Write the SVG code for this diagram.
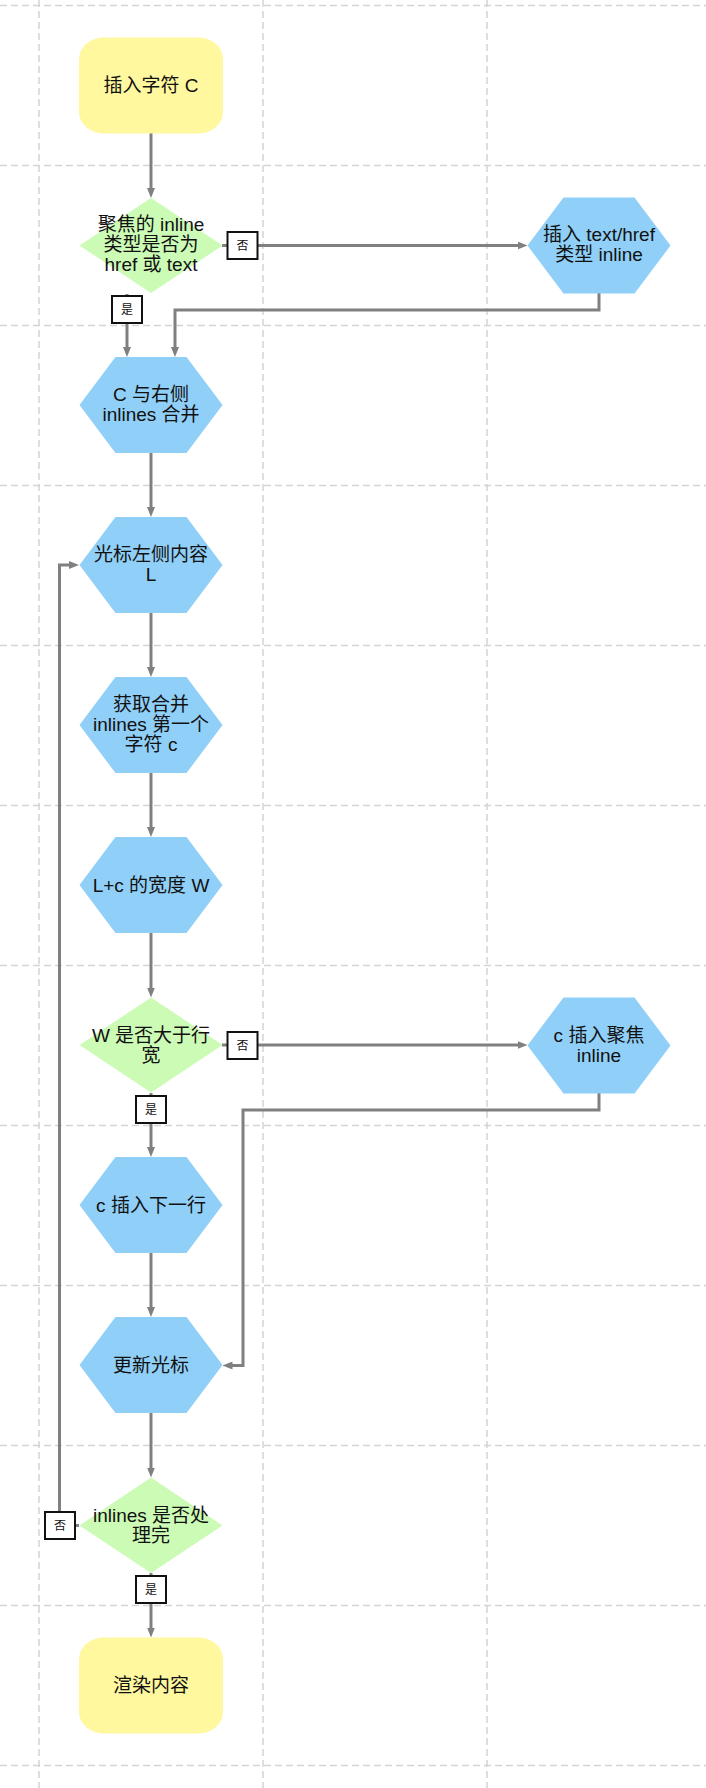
<svg xmlns="http://www.w3.org/2000/svg" width="706" height="1788" viewBox="0 0 706 1788">
<style>
.grid line{stroke:#d4d4d4;stroke-width:1.5;stroke-dasharray:7 4}
.term{fill:#fff89f}
.proc{fill:#90cff7}
.dec{fill:#ccfbb6}
text{font-family:"Liberation Sans","Noto Sans CJK SC",sans-serif;font-size:19px;fill:#111;text-anchor:middle;dominant-baseline:central}
.conn path{fill:none;stroke:#808080;stroke-width:3}
.lbl rect{fill:#fff;stroke:#111;stroke-width:2}
.lbl text{font-size:12px}
</style>
<defs>
<marker id="arr" viewBox="0 0 10 8" refX="4" refY="4" markerWidth="10" markerHeight="8" markerUnits="userSpaceOnUse" orient="auto">
<path d="M0,0 L10,4 L0,8 z" fill="#808080"/>
</marker>
</defs>
<rect width="706" height="1788" fill="#fff"/>
<g class="grid">
<line x1="0" y1="5.5" x2="706" y2="5.5"/>
<line x1="0" y1="165.5" x2="706" y2="165.5"/>
<line x1="0" y1="325.5" x2="706" y2="325.5"/>
<line x1="0" y1="485.5" x2="706" y2="485.5"/>
<line x1="0" y1="645.5" x2="706" y2="645.5"/>
<line x1="0" y1="805.5" x2="706" y2="805.5"/>
<line x1="0" y1="965.5" x2="706" y2="965.5"/>
<line x1="0" y1="1125.5" x2="706" y2="1125.5"/>
<line x1="0" y1="1285.5" x2="706" y2="1285.5"/>
<line x1="0" y1="1445.5" x2="706" y2="1445.5"/>
<line x1="0" y1="1605.5" x2="706" y2="1605.5"/>
<line x1="0" y1="1765.5" x2="706" y2="1765.5"/>
<line x1="39" y1="0" x2="39" y2="1788"/>
<line x1="263" y1="0" x2="263" y2="1788"/>
<line x1="487" y1="0" x2="487" y2="1788"/>
</g>
<g class="conn">
<path d="M151,133 V192" marker-end="url(#arr)"/>
<path d="M222,245.5 H521.5" marker-end="url(#arr)"/>
<path d="M127,294 V351" marker-end="url(#arr)"/>
<path d="M599,293 V310 H175 V351" marker-end="url(#arr)"/>
<path d="M151,453 V511" marker-end="url(#arr)"/>
<path d="M151,613 V671" marker-end="url(#arr)"/>
<path d="M151,773 V831" marker-end="url(#arr)"/>
<path d="M151,933 V991.5" marker-end="url(#arr)"/>
<path d="M222,1045 H521.5" marker-end="url(#arr)"/>
<path d="M151,1093 V1151" marker-end="url(#arr)"/>
<path d="M599,1093 V1110 H243 V1365.5 H228.5" marker-end="url(#arr)"/>
<path d="M151,1253 V1311" marker-end="url(#arr)"/>
<path d="M151,1413 V1471.5" marker-end="url(#arr)"/>
<path d="M151,1573 V1631.5" marker-end="url(#arr)"/>
<path d="M79,1525.5 H59.5 V565 H73" marker-end="url(#arr)"/>
<g class="lbl">
<rect x="227.5" y="232" width="30" height="27"/><text x="242.5" y="245.5">否</text>
<rect x="112" y="296" width="30" height="27"/><text x="127" y="309.5">是</text>
<rect x="227.5" y="1032" width="30" height="27"/><text x="242.5" y="1045.5">否</text>
<rect x="136" y="1096" width="30" height="27"/><text x="151" y="1109.5">是</text>
<rect x="45" y="1512" width="30" height="27"/><text x="60" y="1525.5">否</text>
<rect x="136" y="1576" width="30" height="27"/><text x="151" y="1589.5">是</text>
</g>
</g>
<g id="n_start">
<rect class="term" x="79" y="37.5" width="144" height="96" rx="24" ry="22"/>
<text x="151" y="85.5">插入字符 C</text>
</g>
<g id="n_dec1">
<polygon class="dec" points="151,198 222.5,245.5 151,293 79.5,245.5"/>
<text x="151" y="224.5">聚焦的 inline</text>
<text x="151" y="244.5">类型是否为</text>
<text x="151" y="264.5">href 或 text</text>
</g>
<g id="n_ins_text">
<polygon class="proc" points="527.5,245.5 563.5,197.5 634.5,197.5 670.5,245.5 634.5,293.5 563.5,293.5"/>
<text x="599" y="234">插入 text/href</text>
<text x="599" y="254">类型 inline</text>
</g>
<g id="n_merge">
<polygon class="proc" points="79.5,405 115.5,357 186.5,357 222.5,405 186.5,453 115.5,453"/>
<text x="151" y="394">C 与右侧</text>
<text x="151" y="414">inlines 合并</text>
</g>
<g id="n_left">
<polygon class="proc" points="79.5,565 115.5,517 186.5,517 222.5,565 186.5,613 115.5,613"/>
<text x="151" y="554">光标左侧内容</text>
<text x="151" y="574">L</text>
</g>
<g id="n_first">
<polygon class="proc" points="79.5,725 115.5,677 186.5,677 222.5,725 186.5,773 115.5,773"/>
<text x="151" y="704">获取合并</text>
<text x="151" y="724">inlines 第一个</text>
<text x="151" y="744">字符 c</text>
</g>
<g id="n_width">
<polygon class="proc" points="79.5,885 115.5,837 186.5,837 222.5,885 186.5,933 115.5,933"/>
<text x="151" y="885">L+c 的宽度 W</text>
</g>
<g id="n_dec2">
<polygon class="dec" points="151,997.5 222.5,1045 151,1092.5 79.5,1045"/>
<text x="151" y="1035">W 是否大于行</text>
<text x="151" y="1055">宽</text>
</g>
<g id="n_ins_focus">
<polygon class="proc" points="527.5,1045.5 563.5,997.5 634.5,997.5 670.5,1045.5 634.5,1093.5 563.5,1093.5"/>
<text x="599" y="1035">c 插入聚焦</text>
<text x="599" y="1055">inline</text>
</g>
<g id="n_next">
<polygon class="proc" points="79.5,1205 115.5,1157 186.5,1157 222.5,1205 186.5,1253 115.5,1253"/>
<text x="151" y="1205">c 插入下一行</text>
</g>
<g id="n_cursor">
<polygon class="proc" points="79.5,1365 115.5,1317 186.5,1317 222.5,1365 186.5,1413 115.5,1413"/>
<text x="151" y="1365">更新光标</text>
</g>
<g id="n_dec3">
<polygon class="dec" points="151,1477.5 222.5,1525.5 151,1573 79.5,1525.5"/>
<text x="151" y="1515">inlines 是否处</text>
<text x="151" y="1535">理完</text>
</g>
<g id="n_end">
<rect class="term" x="79" y="1637.5" width="144" height="96" rx="24" ry="22"/>
<text x="151" y="1685.5">渲染内容</text>
</g>
</svg>
